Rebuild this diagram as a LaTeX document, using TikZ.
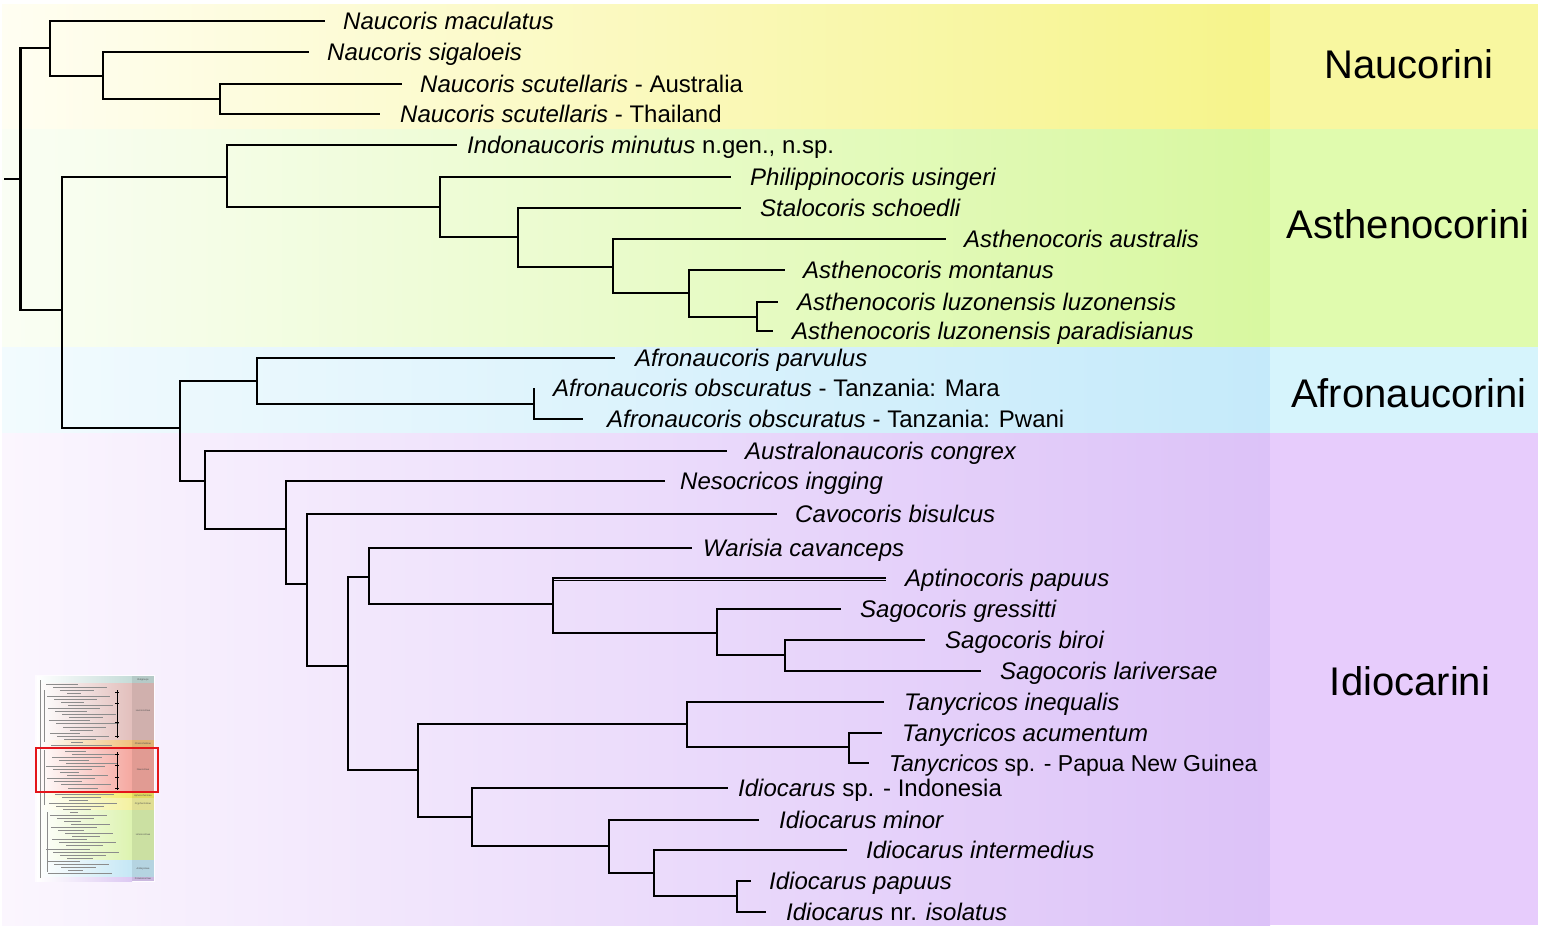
\documentclass[tikz,border=0pt]{standalone}
\usepackage{fontspec}
\setmainfont{Liberation Sans}
\definecolor{nauA}{HTML}{FFFEF2}
\definecolor{nauB}{HTML}{F6F48A}
\definecolor{nauP}{HTML}{F8F7A0}
\definecolor{astA}{HTML}{FAFEF4}
\definecolor{astB}{HTML}{D8F8A0}
\definecolor{astP}{HTML}{E0FBAE}
\definecolor{afrA}{HTML}{F2FBFE}
\definecolor{afrB}{HTML}{C5EAFA}
\definecolor{afrP}{HTML}{D6F4FC}
\definecolor{idiA}{HTML}{FBF6FE}
\definecolor{idiB}{HTML}{DCC2F8}
\definecolor{idiP}{HTML}{E7CCFC}
\definecolor{tnOut}{HTML}{C5DCD8}
\definecolor{tnLac}{HTML}{E2BFBC}
\definecolor{tnChe}{HTML}{F1C27E}
\definecolor{tnNau}{HTML}{F5A8A0}
\definecolor{tnAph}{HTML}{F3EB6A}
\definecolor{tnCry}{HTML}{F4F1A0}
\definecolor{tnLim}{HTML}{DDF3B0}
\definecolor{tnAmb}{HTML}{C5E7F5}
\definecolor{tnPot}{HTML}{DCC8F2}
\definecolor{tnRed}{HTML}{E4151A}
\tikzset{
  br/.style={line width=2.2pt, black, line join=miter},
  lab/.style={anchor=base west, inner sep=0pt, font=\fontsize{24}{28}\selectfont},
  labn/.style={anchor=base west, inner sep=0pt, font=\fontsize{23}{28}\selectfont},
  tribe/.style={anchor=base, inner sep=0pt, font=\fontsize{40}{48}\selectfont},
  tiny/.style={inner sep=0pt, font=\fontsize{2.4}{3}\selectfont, text=black!70},
}
\begin{document}
\begin{tikzpicture}[x=1pt,y=-1pt]
\useasboundingbox (0,0) rectangle (1542,929);
\fill[white] (0,0) rectangle (1542,929);
% ---------- bands ----------
\shade[left color=nauA, right color=nauB] (2,4) rectangle (1270,129);
\fill[nauP] (1270,4) rectangle (1538,129);
\shade[left color=astA, right color=astB] (2,129) rectangle (1270,347);
\fill[astP] (1270,129) rectangle (1538,347);
\shade[left color=afrA, right color=afrB] (2,347) rectangle (1270,433);
\fill[afrP] (1270,347) rectangle (1538,433);
\shade[left color=idiA, right color=idiB] (2,433) rectangle (1270,925);
\fill[idiP] (1270,433) rectangle (1538,925);
% ---------- tribe labels ----------
\node[tribe] (tNau) at (1409,78) {Naucorini};
\node[tribe] (tAst) at (1408,238) {Asthenocorini};
\node[tribe] (tAfr) at (1409,407) {Afronaucorini};
\node[tribe] (tIdi) at (1410,695) {Idiocarini};
% ---------- thumbnail ----------
\fill[white!70!idiA] (35,675) rectangle (155,882);
\foreach \ya/\yb/\cc in {676/683/tnOut,683/740/tnLac,740/747/tnChe,747/793/tnNau,793/798/tnAph,798/810/tnCry,810/860/tnLim,860/877/tnAmb,877/881/tnPot}{
  \shade[left color=white, right color=\cc] (37,\ya) rectangle (132,\yb);
  \fill[\cc!92!black] (132,\ya) rectangle (154,\yb);
}
\foreach \i in {0,...,62}{
  \pgfmathsetmacro{\yy}{684+\i*3.05}
  \pgfmathsetmacro{\xa}{46+mod(\i*7,27)}
  \pgfmathsetmacro{\xb}{78+mod(\i*29,42)}
  \draw[black!45, line width=0.35pt] (\xa,\yy) -- (\xb,\yy);
}
\draw[black!45, line width=0.35pt] (40,680) -- (40,878);
\draw[black!45, line width=0.35pt] (44,690) -- (44,742);
\draw[black!45, line width=0.35pt] (44,750) -- (44,805);
\draw[black!45, line width=0.35pt] (47,812) -- (47,872);
\draw[black, line width=0.8pt] (117,690) -- (117,738);
\draw[black, line width=0.8pt] (117,752) -- (117,790);
\foreach \y in {692,703,722,736,754,765,777,788}{\draw[black, line width=0.6pt] (115,\y) -- (119,\y);}
\node[tiny] (n1) at (143,679.5) {Outgroups};
\node[tiny] (n2) at (143,711) {Laccocorinae};
\node[tiny] (n3) at (143,743.5) {Cheirochelinae};
\node[tiny] (n4) at (143,770) {Naucorinae};
\node[tiny] (n5) at (143,795.5) {Aphelocheirinae};
\node[tiny] (n6) at (143,804) {Cryphocricinae};
\node[tiny] (n7) at (143,835) {Limnocorinae};
\node[tiny] (n8) at (143,868.5) {Ambrysinae};
\node[tiny] (n9) at (143,879) {Potamocorinae};
\draw[tnRed, line width=2.6pt] (36,748) rectangle (158,792);
% ---------- tree: internal nodes ----------
\coordinate (s0) at (4,179);
\coordinate (r)  at (20.5,179);
\coordinate (nA) at (50,48);
\coordinate (nB) at (103,76);
\coordinate (nC) at (220,99);
\coordinate (nD) at (62,310);
\coordinate (nE) at (227,177);
\coordinate (nG) at (440,207);
\coordinate (nH) at (518,237);
\coordinate (nI) at (613,267);
\coordinate (nJ) at (689,293);
\coordinate (nK) at (757,317);
\coordinate (nF) at (180,428);
\coordinate (nL) at (257,381);
\coordinate (nN) at (534,404);
\coordinate (nM) at (205,481);
\coordinate (nO) at (286,529);
\coordinate (nP) at (307,584);
\coordinate (nQ) at (348,666);
\coordinate (nR) at (369,577);
\coordinate (nT) at (553,604);
\coordinate (nU) at (717,633);
\coordinate (nV) at (785,655);
\coordinate (nS) at (418,770);
\coordinate (nW) at (687,724);
\coordinate (nY) at (849,747);
\coordinate (nX) at (472,817);
\coordinate (nZ) at (609,846);
\coordinate (nZb) at (654,873);
\coordinate (nZc) at (737,896);
% ---------- leaves ----------
\coordinate (l1) at (325,21);   \node[lab] (t1) at (343,29.5) {\textit{Naucoris maculatus}};
\coordinate (l2) at (309,52);   \node[lab] (t2) at (327,60.5) {\textit{Naucoris sigaloeis}};
\coordinate (l3) at (402,84);   \node[lab] (t3) at (420,92.5) {\textit{Naucoris scutellaris} - Australia};
\coordinate (l4) at (380,114);  \node[lab] (t4) at (400,122.5) {\textit{Naucoris scutellaris} - Thailand};
\coordinate (l5) at (457,145);  \node[lab] (t5) at (467,153.5) {\textit{Indonaucoris minutus} n.gen., n.sp.};
\coordinate (l6) at (731,177);  \node[lab] (t6) at (750,185.5) {\textit{Philippinocoris usingeri}};
\coordinate (l7) at (741,208);  \node[lab] (t7) at (760,216.5) {\textit{Stalocoris schoedli}};
\coordinate (l8) at (946,239);  \node[lab] (t8) at (964,247.5) {\textit{Asthenocoris australis}};
\coordinate (l9) at (785,270);  \node[lab] (t9) at (803,278.5) {\textit{Asthenocoris montanus}};
\coordinate (l10) at (778,302); \node[lab] (t10) at (797,310.5) {\textit{Asthenocoris luzonensis luzonensis}};
\coordinate (l11) at (773,331); \node[lab] (t11) at (792,339.5) {\textit{Asthenocoris luzonensis paradisianus}};
\coordinate (l12) at (615,358); \node[lab] (t12) at (635,366.5) {\textit{Afronaucoris parvulus}};
\coordinate (l13) at (534,388); \node[lab] (t13) at (553,396.5) {\textit{Afronaucoris obscuratus} - Tanzania: Mara};
\coordinate (l14) at (583,419); \node[lab] (t14) at (607,427.5) {\textit{Afronaucoris obscuratus} - Tanzania: Pwani};
\coordinate (l15) at (727,451); \node[lab] (t15) at (745,459.5) {\textit{Australonaucoris congrex}};
\coordinate (l16) at (665,481); \node[lab] (t16) at (680,489.5) {\textit{Nesocricos ingging}};
\coordinate (l17) at (777,514); \node[lab] (t17) at (795,522.5) {\textit{Cavocoris bisulcus}};
\coordinate (l18) at (692,548); \node[lab] (t18) at (703,556.5) {\textit{Warisia cavanceps}};
\coordinate (l19) at (886,578); \node[lab] (t19) at (905,586.5) {\textit{Aptinocoris papuus}};
\coordinate (l20) at (841,609); \node[lab] (t20) at (860,617.5) {\textit{Sagocoris gressitti}};
\coordinate (l21) at (925,640); \node[lab] (t21) at (945,648.5) {\textit{Sagocoris biroi}};
\coordinate (l22) at (981,671); \node[lab] (t22) at (1000,679.5) {\textit{Sagocoris lariversae}};
\coordinate (l23) at (884,702); \node[lab] (t23) at (904,710.5) {\textit{Tanycricos inequalis}};
\coordinate (l24) at (882,733); \node[lab] (t24) at (902,741.5) {\textit{Tanycricos acumentum}};
\coordinate (l25) at (869,763); \node[labn] (t25) at (889,771.5) {\textit{Tanycricos} sp. - Papua New Guinea};
\coordinate (l26) at (728,788); \node[lab] (t26) at (738,796.5) {\textit{Idiocarus} sp. - Indonesia};
\coordinate (l27) at (759,820); \node[lab] (t27) at (779,828.5) {\textit{Idiocarus minor}};
\coordinate (l28) at (847,850); \node[lab] (t28) at (866,858.5) {\textit{Idiocarus intermedius}};
\coordinate (l29) at (751,881); \node[lab] (t29) at (769,889.5) {\textit{Idiocarus papuus}};
\coordinate (l30) at (766,912); \node[lab] (t30) at (786,920.5) {\textit{Idiocarus} nr. \textit{isolatus}};
% ---------- tree: branches ----------
\draw[br] (s0) -- (r);
\draw[br] (r) |- (nA);  \draw[br] (r) |- (nD);
\draw[br] (nA) |- (l1); \draw[br] (nA) |- (nB);
\draw[br] (nB) |- (l2); \draw[br] (nB) |- (nC);
\draw[br] (nC) |- (l3); \draw[br] (nC) |- (l4);
\draw[br] (nD) |- (nE); \draw[br] (nD) |- (nF);
\draw[br] (nE) |- (l5); \draw[br] (nE) |- (nG);
\draw[br] (nG) |- (l6); \draw[br] (nG) |- (nH);
\draw[br] (nH) |- (l7); \draw[br] (nH) |- (nI);
\draw[br] (nI) |- (l8); \draw[br] (nI) |- (nJ);
\draw[br] (nJ) |- (l9); \draw[br] (nJ) |- (nK);
\draw[br] (nK) |- (l10); \draw[br] (nK) |- (l11);
\draw[br] (nF) |- (nL); \draw[br] (nF) |- (nM);
\draw[br] (nL) |- (l12); \draw[br] (nL) |- (nN);
\draw[br] (nN) |- (l13); \draw[br] (nN) |- (l14);
\draw[br] (nM) |- (l15); \draw[br] (nM) |- (nO);
\draw[br] (nO) |- (l16); \draw[br] (nO) |- (nP);
\draw[br] (nP) |- (l17); \draw[br] (nP) |- (nQ);
\draw[br] (nQ) |- (nR); \draw[br] (nQ) |- (nS);
\draw[br] (nR) |- (l18); \draw[br] (nR) |- (nT);
\draw[br] (nT) |- (l19); \draw[br] (nT) |- (nU);
\draw[br, line width=1.3pt] ([yshift=-2.2pt]nT |- l19) -- ([yshift=-2.2pt]l19);
\draw[br] (nU) |- (l20); \draw[br] (nU) |- (nV);
\draw[br] (nV) |- (l21); \draw[br] (nV) |- (l22);
\draw[br] (nS) |- (nW); \draw[br] (nS) |- (nX);
\draw[br] (nW) |- (l23); \draw[br] (nW) |- (nY);
\draw[br] (nY) |- (l24); \draw[br] (nY) |- (l25);
\draw[br] (nX) |- (l26); \draw[br] (nX) |- (nZ);
\draw[br] (nZ) |- (l27); \draw[br] (nZ) |- (nZb);
\draw[br] (nZb) |- (l28); \draw[br] (nZb) |- (nZc);
\draw[br] (nZc) |- (l29); \draw[br] (nZc) |- (l30);
\end{tikzpicture}
\end{document}
